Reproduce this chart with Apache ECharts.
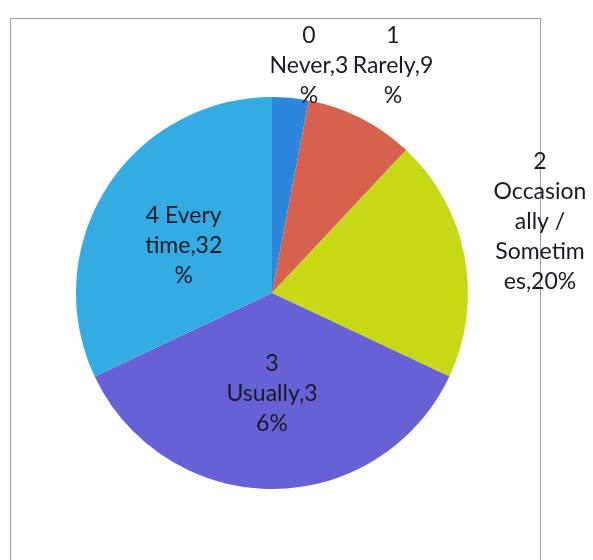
<!DOCTYPE html>
<html>
<head>
<meta charset="utf-8">
<script src="https://cdn.jsdelivr.net/npm/echarts@6/dist/echarts.min.js"></script>
<style>
html,body{margin:0;padding:0;background:#fff;}
#frame{position:absolute;left:10px;top:18px;width:529px;height:600px;border:1px solid #a0a0a0;}
#chart{position:absolute;left:0;top:0;width:593px;height:560px;}
</style>
</head>
<body>
<div id="frame"></div>
<div id="chart"></div>
<script>
var categories = ['0 Never', '1 Rarely', '2 Occasionally / Sometimes', '3 Usually', '4 Every time'];
var values = [3, 9, 20, 36, 32];
var labelTexts = ['0\nNever,3\n%', '1\nRarely,9\n%', '2\nOccasion\nally /\nSometim\nes,20%', '3\nUsually,3\n6%', '4 Every\ntime,32\n%'];
var colors = ['#2b86de', '#d6614f', '#c6d816', '#6662d6', '#34ace2'];
var outsideIdx = [0, 1, 2];
var labelSpots = {0: [309, 66], 1: [393, 66], 2: [540, 222]};

var chart = echarts.init(document.getElementById('chart'), null, {renderer: 'canvas'});
var data = categories.map(function (c, i) {
  return {
    name: c,
    value: values[i],
    itemStyle: {color: colors[i]},
    label: {position: outsideIdx.indexOf(i) >= 0 ? 'outside' : 'inside'},
    labelLine: {show: false}
  };
});
chart.setOption({
  backgroundColor: 'transparent',
  animation: false,
  series: [{
    type: 'pie',
    center: [272, 293],
    radius: [0, 196],
    startAngle: 90,
    clockwise: true,
    avoidLabelOverlap: false,
    data: data,
    label: {
      formatter: function (p) { return labelTexts[p.dataIndex]; },
      fontFamily: 'Lato',
      fontSize: 23,
      lineHeight: 30,
      color: '#1a1a26',
      align: 'center'
    },
    labelLayout: function (params) {
      var s = labelSpots[params.dataIndex];
      if (s) {
        return {x: s[0], y: s[1], align: 'center', verticalAlign: 'middle'};
      }
      if (params.dataIndex === 4) {
        return {dx: -3, dy: 7};
      }
      return {};
    }
  }]
});
</script>
</body>
</html>
